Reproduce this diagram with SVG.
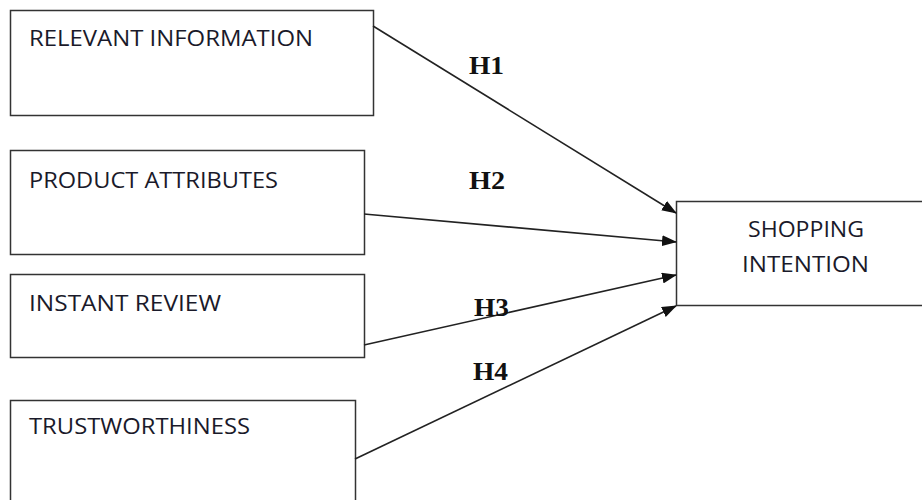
<svg xmlns="http://www.w3.org/2000/svg" width="922" height="500" viewBox="0 0 922 500">
<style>
.box{fill:#fff;stroke:#333;stroke-width:1.5}
.lbl{font-family:"Open Sans","Liberation Sans",sans-serif;font-size:21.5px;fill:#1a1a2a}
.h{font-family:"Liberation Serif",serif;font-weight:bold;font-size:25px;fill:#111}
.c{stroke:#222;stroke-width:1.6;fill:none;marker-end:url(#ah)}
</style>
<defs>
<marker id="ah" markerWidth="15" markerHeight="11" refX="14" refY="5.5" orient="auto" markerUnits="userSpaceOnUse">
<path d="M0,0 L15,5.5 L0,11 Z" fill="#111"/>
</marker>
</defs>
<rect width="922" height="500" fill="#fff"/>
<g id="n1"><rect class="box" x="10.5" y="10.5" width="363" height="105"/><text class="lbl" x="29" y="46" textLength="284" lengthAdjust="spacingAndGlyphs">RELEVANT INFORMATION</text></g>
<g id="n2"><rect class="box" x="10.5" y="150.5" width="354" height="104"/><text class="lbl" x="29" y="188" textLength="249" lengthAdjust="spacingAndGlyphs">PRODUCT ATTRIBUTES</text></g>
<g id="n3"><rect class="box" x="10.5" y="274.5" width="354" height="83"/><text class="lbl" x="29" y="311" textLength="192" lengthAdjust="spacingAndGlyphs">INSTANT REVIEW</text></g>
<g id="n4"><rect class="box" x="10.5" y="400.5" width="345" height="110"/><text class="lbl" x="29" y="434" textLength="221" lengthAdjust="spacingAndGlyphs">TRUSTWORTHINESS</text></g>
<g id="n5"><rect class="box" x="676.5" y="201.5" width="260" height="104"/><text class="lbl" x="748" y="237" textLength="116" lengthAdjust="spacingAndGlyphs">SHOPPING</text><text class="lbl" x="742" y="272" textLength="127" lengthAdjust="spacingAndGlyphs">INTENTION</text></g>
<g id="connectors">
<line class="c" x1="373" y1="26" x2="676" y2="213"/>
<line class="c" x1="364" y1="214" x2="676" y2="242"/>
<line class="c" x1="364" y1="345" x2="676" y2="275"/>
<line class="c" x1="355" y1="459" x2="676" y2="306"/>
<text class="h" x="469" y="74" textLength="35" lengthAdjust="spacingAndGlyphs">H1</text>
<text class="h" x="469" y="189" textLength="36" lengthAdjust="spacingAndGlyphs">H2</text>
<text class="h" x="474" y="316" textLength="35" lengthAdjust="spacingAndGlyphs">H3</text>
<text class="h" x="473" y="380" textLength="35" lengthAdjust="spacingAndGlyphs">H4</text>
</g>
</svg>
